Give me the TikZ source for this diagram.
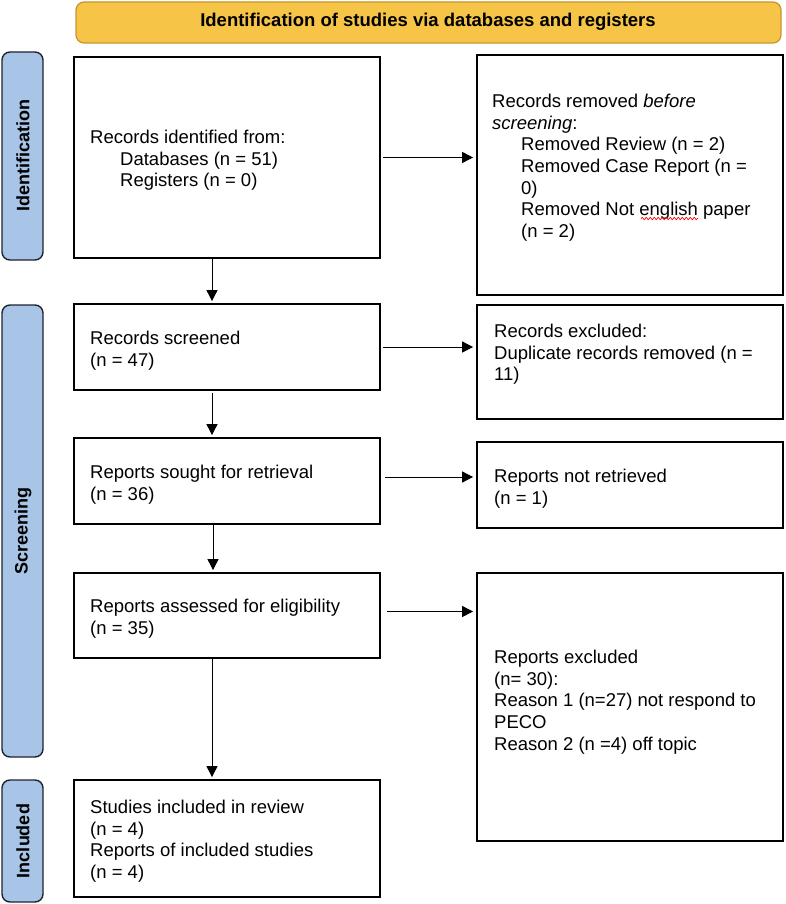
\documentclass[tikz,border=0pt]{standalone}
\usepackage{fontspec}
\setmainfont{Liberation Sans}
\usetikzlibrary{arrows.meta,decorations.pathmorphing}
\definecolor{hdrfill}{RGB}{246,196,70}
\definecolor{hdrdraw}{RGB}{200,150,40}
\definecolor{barfill}{RGB}{168,196,230}
\definecolor{bardraw}{RGB}{30,36,48}
\begin{document}
\begin{tikzpicture}[x=1pt,y=-1pt,
  box/.style={draw=black,line width=1.8pt,inner sep=0pt},
  hdr/.style={draw=hdrdraw,fill=hdrfill,line width=1.2pt,rounded corners=8pt},
  sidebar/.style={draw=bardraw,fill=barfill,line width=1.4pt,rounded corners=8pt},
  bartext/.style={font=\fontsize{18}{20}\selectfont\bfseries,rotate=90},
  txt/.style={anchor=north west,inner sep=0pt,align=left,font=\fontsize{18.5}{21.6}\selectfont},
  arr/.style={line width=0.9pt,-{Triangle[length=11pt,width=11pt]}}]
\useasboundingbox (0,0) rectangle (785,904);
\fill[white] (0,0) rectangle (785,904);
% header
\draw[hdr] (76,2) rectangle (781,43);
\node[font=\fontsize{18.5}{20}\selectfont\bfseries] (hdrtxt) at (428,22) {Identification of studies via databases and registers};
% side bars
\draw[sidebar] (2,52) rectangle (43,260);
\node[bartext] (lid) at (23,156) {Identification};
\draw[sidebar] (2,305) rectangle (43,757);
\node[bartext] (lsc) at (23,531) {Screening};
\draw[sidebar] (2,780) rectangle (43,902);
\node[bartext] (lin) at (23,841) {Included};
% boxes
\node[box,minimum width=306pt,minimum height=201pt] (b1) at (227,157.5) {};
\node[box,minimum width=306pt,minimum height=240pt] (b2) at (630,175) {};
\node[box,minimum width=306pt,minimum height=86pt] (b3) at (227,347) {};
\node[box,minimum width=306pt,minimum height=114pt] (b4) at (630,362) {};
\node[box,minimum width=306pt,minimum height=86pt] (b5) at (227,481) {};
\node[box,minimum width=306pt,minimum height=86pt] (b6) at (630,485) {};
\node[box,minimum width=306pt,minimum height=85pt] (b7) at (227,615.5) {};
\node[box,minimum width=306pt,minimum height=268pt] (b8) at (630,707) {};
\node[box,minimum width=306pt,minimum height=117pt] (b9) at (227,838.5) {};
% texts
\node[txt] (t1) at (90,130) {Records identified from:\\\hspace*{30pt}Databases (n = 51)\\\hspace*{30pt}Registers (n = 0)};
\node[txt] (t2) at (492,94) {Records removed \textit{before}\\\textit{screening}:\\\hspace*{29pt}Removed Review (n = 2)\\\hspace*{29pt}Removed Case Report (n =\\\hspace*{29pt}0)\\\hspace*{29pt}Removed Not english paper\\\hspace*{29pt}(n = 2)};
\node[txt] (t3) at (90,331) {Records screened\\(n = 47)};
\node[txt] (t4) at (494,324) {Records excluded:\\Duplicate records removed (n =\\11)};
\node[txt] (t5) at (90,465) {Reports sought for retrieval\\(n = 36)};
\node[txt] (t6) at (494,469) {Reports not retrieved\\(n = 1)};
\node[txt] (t7) at (90,599) {Reports assessed for eligibility\\(n = 35)};
\node[txt] (t8) at (494,650) {Reports excluded\\(n= 30):\\Reason 1 (n=27) not respond to\\PECO\\Reason 2 (n =4) off topic};
\node[txt] (t9) at (90,800) {Studies included in review\\(n = 4)\\Reports of included studies\\(n = 4)};
% spell-check underline
\coordinate (sq1) at (641,218.5);
\coordinate (sq2) at (698,218.5);
\draw[red,line width=0.7pt,decorate,decoration={snake,amplitude=1.2pt,segment length=4pt}] (sq1) -- (sq2);
% connectors
\draw[arr,shorten <=2pt,shorten >=3pt] (b1.east) -- (b1.east -| b2.west);
\draw[arr,shorten <=2pt,shorten >=3pt] (b3.east) -- (b3.east -| b4.west);
\draw[arr,shorten <=4pt,shorten >=3pt] ([yshift=4pt]b5.east) -- ([yshift=4pt]b5.east -| b6.west);
\draw[arr,shorten <=6pt,shorten >=3pt] ([yshift=4pt]b7.east) -- ([yshift=4pt]b7.east -| b8.west);
\draw[arr,shorten >=2pt] ([xshift=-15pt]b1.south) -- ([xshift=-15pt]b3.north);
\draw[arr,shorten <=2pt,shorten >=2pt] ([xshift=-15pt]b3.south) -- ([xshift=-15pt]b5.north);
\draw[arr,shorten >=2pt] ([xshift=-14pt]b5.south) -- ([xshift=-14pt]b7.north);
\draw[arr,shorten >=2pt] ([xshift=-15pt]b7.south) -- ([xshift=-15pt]b9.north);
\end{tikzpicture}
\end{document}
